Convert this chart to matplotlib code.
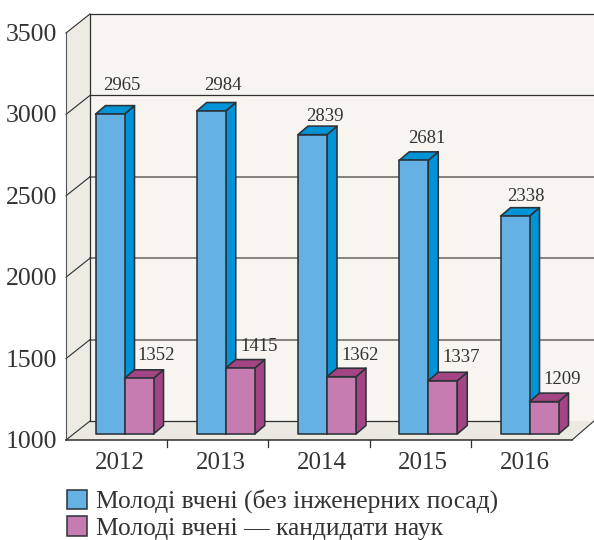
import matplotlib
matplotlib.use("Agg")
import matplotlib.pyplot as plt
from matplotlib.patches import Patch, Polygon

# --- Data ---
years = ["2012", "2013", "2014", "2015", "2016"]
young_all = [2965, 2984, 2839, 2681, 2338]
young_phd = [1352, 1415, 1362, 1337, 1209]
y_ticks = [1000, 1500, 2000, 2500, 3000, 3500]
legend_labels = ["Молоді вчені (без інженерних посад)", "Молоді вчені — кандидати наук"]

# label offsets from the bar top, in pixels
all_offsets = [(12, 29), (12, 26), (12, 18), (13, 22), (11, 20)]
phd_offsets = [(32, 23), (33, 22), (33, 21), (33, 23), (33, 22)]

# --- Layout (pixels on a 594x540 canvas) ---
W, H = 594, 540
PX_PER_CAT = 101.25
PX_PER_VAL = 0.1628
X_ZERO = 124.5  # pixel of the first group's centre
Y_BASE = 440.0  # pixel of value 1000 on the front edge
BAR_W = 29 / PX_PER_CAT
DEPTH_X = 10 / PX_PER_CAT
DEPTH_Y = 8.5 / PX_PER_VAL
WALL_X = 24 / PX_PER_CAT
WALL_Y = 19 / PX_PER_VAL
BAR_LIFT = 6 / PX_PER_VAL
LEFT = (66 - X_ZERO) / PX_PER_CAT
FRONT_RIGHT = (572 - X_ZERO) / PX_PER_CAT
RIGHT = (W - X_ZERO) / PX_PER_CAT

DARK = "#2f2f2f"
TEXT = "#333333"

plt.rcParams["font.family"] = ["Liberation Serif", "DejaVu Serif"]
fig = plt.figure(figsize=(W / 100, H / 100), dpi=100)
ax = fig.add_axes([0, 0, 1, 1])
ax.set_xlim(-X_ZERO / PX_PER_CAT, RIGHT)
ax.set_ylim(1000 - (H - Y_BASE) / PX_PER_VAL, 1000 + Y_BASE / PX_PER_VAL)
ax.axis("off")

y_min, y_max = y_ticks[0], y_ticks[-1]

# --- Walls and floor ---
ax.add_patch(Polygon([(LEFT + WALL_X, y_min + WALL_Y), (RIGHT, y_min + WALL_Y),
                      (RIGHT, y_max + WALL_Y), (LEFT + WALL_X, y_max + WALL_Y)],
                     fc="#F8F5F0", ec="none", zorder=1))
ax.add_patch(Polygon([(LEFT, y_min), (LEFT + WALL_X, y_min + WALL_Y),
                      (LEFT + WALL_X, y_max + WALL_Y), (LEFT, y_max)],
                     fc="#EEEBE4", ec="none", zorder=1))
ax.add_patch(Polygon([(LEFT, y_min), (FRONT_RIGHT, y_min), (RIGHT, y_min + WALL_Y),
                      (LEFT + WALL_X, y_min + WALL_Y)],
                     fc="#ECE9E3", ec="none", zorder=1))

for v in y_ticks:
    soft = v in (1500, 2000, 2500)
    # the floor's back edge stops behind the last bar
    line_end = 4.3 if v == y_min else RIGHT
    ax.plot([LEFT + WALL_X, line_end], [v + WALL_Y, v + WALL_Y],
            color="#7d7873" if soft else DARK, lw=1.3 if soft else 0.9, zorder=2)
    ax.plot([LEFT, LEFT + WALL_X], [v, v + WALL_Y], color=DARK, lw=0.8, zorder=2)
    ax.text(LEFT - 9 / PX_PER_CAT, v - 2 / PX_PER_VAL, str(v), ha="right", va="center",
            fontsize=18.5, color=TEXT)

ax.plot([LEFT, LEFT], [y_min, y_max], color="#555555", lw=0.8, zorder=2)
ax.plot([LEFT + WALL_X, LEFT + WALL_X], [y_min + WALL_Y, y_max + WALL_Y], color=DARK, lw=0.9, zorder=2)
ax.plot([LEFT, FRONT_RIGHT], [y_min, y_min], color=DARK, lw=1.1, zorder=2)
ax.plot([FRONT_RIGHT, RIGHT], [y_min, y_min + WALL_Y], color=DARK, lw=0.8, zorder=2)

# ticks between the groups
for i in range(len(years) - 1):
    ax.plot([i + 0.42, i + 0.42], [y_min, y_min - 7 / PX_PER_VAL], color=DARK, lw=0.9, zorder=2)


def draw_box(x0, x1, top, front, side):
    """Front, side and top faces of one bar."""
    low = y_min + BAR_LIFT
    kw = dict(ec="#2b3238", lw=1.15, joinstyle="round", zorder=4)
    ax.add_patch(Polygon([(x1, low), (x1 + DEPTH_X, low + DEPTH_Y),
                          (x1 + DEPTH_X, top + DEPTH_Y), (x1, top)], fc=side, **kw))
    ax.add_patch(Polygon([(x0, top), (x1, top), (x1 + DEPTH_X, top + DEPTH_Y),
                          (x0 + DEPTH_X, top + DEPTH_Y)], fc=side, **kw))
    ax.add_patch(Polygon([(x0, low), (x1, low), (x1, top), (x0, top)], fc=front, **kw))


# --- Bars ---
for i, year in enumerate(years):
    top_a = young_all[i] + BAR_LIFT
    top_b = young_phd[i] + BAR_LIFT - 10
    draw_box(i - BAR_W, i, top_a, "#66B1E3", "#0093D6")
    draw_box(i, i + BAR_W, top_b, "#C67CB0", "#A34484")

    ax.annotate(str(young_all[i]), (i - BAR_W / 2, top_a), xytext=all_offsets[i],
                textcoords="offset pixels", ha="center", va="center", fontsize=13.5, color=TEXT, zorder=5)
    ax.annotate(str(young_phd[i]), (i, top_b), xytext=phd_offsets[i],
                textcoords="offset pixels", ha="center", va="center", fontsize=13.5, color=TEXT, zorder=5)
    ax.text(i - 0.05, y_min - 23 / PX_PER_VAL, year, ha="center", va="center", fontsize=18, color=TEXT)

# --- Legend ---
handles = [Patch(fc="#66B1E3", ec="#2b3238", lw=1.1), Patch(fc="#C67CB0", ec="#2b3238", lw=1.1)]
ax.legend(handles, legend_labels, loc="upper left", bbox_to_anchor=(67 / W, 1 - 489.5 / H),
          frameon=False, fontsize=18.4, labelcolor=TEXT, borderpad=0, borderaxespad=0,
          handlelength=0.78, handleheight=0.78, handletextpad=0.36, labelspacing=0.12)

fig.savefig("out.png", dpi=100)
